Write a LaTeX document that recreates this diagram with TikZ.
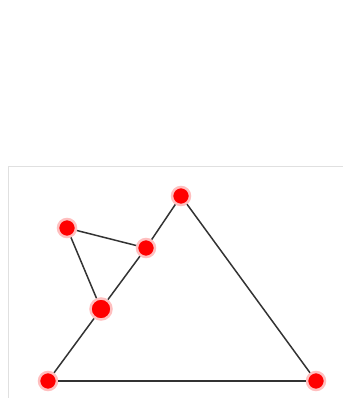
\documentclass[tikz,border=0pt]{standalone}
\usepackage{tikz}
\begin{document}
\begin{tikzpicture}[x=1pt, y=-1pt,
    vertex/.style={circle, fill=red, draw=red!25, line width=2.5pt,
                   inner sep=0pt, minimum size=#1},
    vertex/.default=18pt,
    edge/.style={draw=black!80, line width=1.5pt}]
\useasboundingbox (0,0) rectangle (343,398);
% Frame
\draw[black!12, line width=0.8pt] (8,398) -- (8,166) -- (343,166);
% Vertices
\node[vertex] (top) at (181,196) {};
\node[vertex] (ul) at (67,228) {};
\node[vertex] (mid) at (146,248) {};
\node[vertex=21pt] (low) at (101,309) {};
\node[vertex] (bl) at (48,381) {};
\node[vertex] (br) at (316,381) {};
% Edges
\draw[edge] (bl) -- (low);
\draw[edge] (low) -- (mid);
\draw[edge] (mid) -- (top);
\draw[edge] (top) -- (br);
\draw[edge] (br) -- (bl);
\draw[edge] (ul) -- (mid);
\draw[edge] (ul) -- (low);
\end{tikzpicture}
\end{document}
